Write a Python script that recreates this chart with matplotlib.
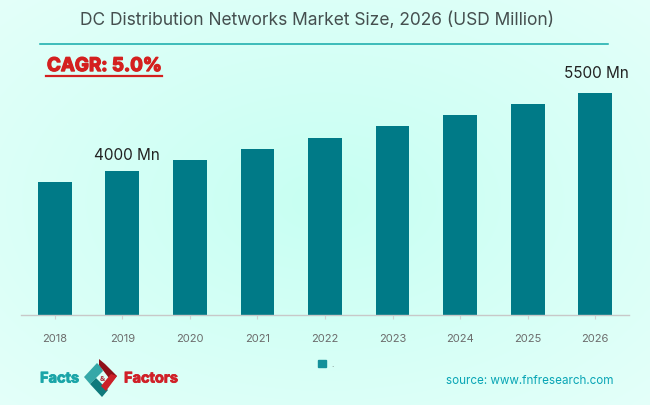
import numpy as np
import matplotlib
matplotlib.use("Agg")
import matplotlib.pyplot as plt
import matplotlib.patheffects as pe
from matplotlib.patches import Patch, Polygon
from matplotlib.lines import Line2D

years = ["2018", "2019", "2020", "2021", "2022", "2023", "2024", "2025", "2026"]
market_size = [3790, 4000, 4210, 4430, 4640, 4860, 5070, 5290, 5500]
title = "DC Distribution Networks Market Size, 2026 (USD Million)"
annotations = {1: "4000 Mn", 8: "5500 Mn"}
label_offsets = {1: (3, 6.3), 8: (0.7, 9.2)}

W, H = 650, 406
TEAL = "#007a87"
plt.rcParams["font.family"] = ["Inter", "DejaVu Sans"]
fig = plt.figure(figsize=(W / 100, H / 100), dpi=100)

def fx(x): return x / W
def fy(y): return 1 - y / H

# background gradient
bg = fig.add_axes([0, 0, 1, 1], zorder=0)
yy, xx = np.mgrid[0:1:203j, 0:1:325j]
d = np.clip(np.hypot((xx - 0.5) / 0.75, (yy - 0.5) / 0.75), 0, 1)
c0, c1 = np.array([0.78, 1.0, 0.95]), np.array([0.90, 1.0, 0.98])
bg.imshow(c0 + (c1 - c0) * d[..., None], aspect="auto", extent=[0, W, H, 0], interpolation="bilinear")
bg.set_xlim(0, W); bg.set_ylim(H, 0)
bg.axis("off")

# chart
ax = fig.add_axes([fx(21), fy(316), (629 - 21) / W, (316 - 61) / H], zorder=1)
ax.patch.set_alpha(0)
base = 1230
ax.set_ylim(base, base + 255 * 19.23)
ax.set_xlim(-0.5, 8.5)
x = np.arange(len(years))
ax.bar(x, market_size, width=0.5, color=TEAL)
ax.set_xticks(x, years)
ax.tick_params(axis="x", length=3, width=0.8, color="#d0d0d0", labelcolor="#6c6c6c", labelsize=8, pad=10)
ax.set_yticks([])
for s in ["top", "left", "right"]:
    ax.spines[s].set_visible(False)
ax.spines["bottom"].set_color("#c8c8c8")
ax.spines["bottom"].set_linewidth(1)
for i, lab in annotations.items():
    ax.annotate(lab, (i, market_size[i]), xytext=label_offsets[i], textcoords="offset points",
                ha="center", va="bottom", fontsize=11, color="#222222")

# title and rule
fig.text(fx(316.5), fy(20), title, ha="center", va="center", fontsize=12.5, color="#454f4f")
fig.add_artist(Line2D([fx(40), fx(608)], [fy(45), fy(45)], color="#12a9a9", lw=1.1))

# CAGR
fig.text(fx(47), fy(67.5), "CAGR: 5.0%", ha="left", va="center", fontsize=13.5, fontweight="bold", color="#d4201f",
         path_effects=[pe.withStroke(linewidth=1.0, foreground="#d4201f")])
fig.add_artist(Line2D([fx(46), fx(162)], [fy(77), fy(77)], color="#d4201f", lw=1.6))

# legend
ax.legend(handles=[Patch(color="#14909a", label=".")], loc="center", bbox_to_anchor=(fx(326), fy(365)),
          bbox_transform=fig.transFigure, frameon=False, fontsize=6, handlelength=0.9, handleheight=0.9,
          handletextpad=0.7, labelcolor="#555555")

# source
fig.text(fx(613), fy(381), "source: www.fnfresearch.com", ha="right", va="center", fontsize=8.4, color="#08a5b5")

# logo
fig.text(fx(40), fy(379.5), "Facts", ha="left", va="center", fontsize=10.5, fontweight="bold", color="#1aa5a8",
         path_effects=[pe.withStroke(linewidth=0.6, foreground="#1aa5a8")])
fig.text(fx(124), fy(379.5), "Factors", ha="left", va="center", fontsize=10.5, fontweight="bold", color="#d02028",
         path_effects=[pe.withStroke(linewidth=0.6, foreground="#d02028")])
def poly(pts, col):
    bg.add_patch(Polygon(pts, closed=True, facecolor=col, edgecolor="none"))
poly([(97, 364), (84, 378), (90, 385), (103, 372), (101, 368)], "#35a8a8")
poly([(90, 385), (96, 379), (108, 391), (102, 398)], "#0f7a7c")
poly([(99, 360), (105, 365), (117, 377), (112, 383), (99, 366)], "#8f1018")
poly([(117, 377), (106, 392), (101, 387), (111, 375)], "#cc2028")
fig.text(fx(102.5), fy(379), "&", ha="center", va="center", fontsize=5.5, fontweight="bold", color="#b02030")

fig.savefig("out.png", dpi=100)
